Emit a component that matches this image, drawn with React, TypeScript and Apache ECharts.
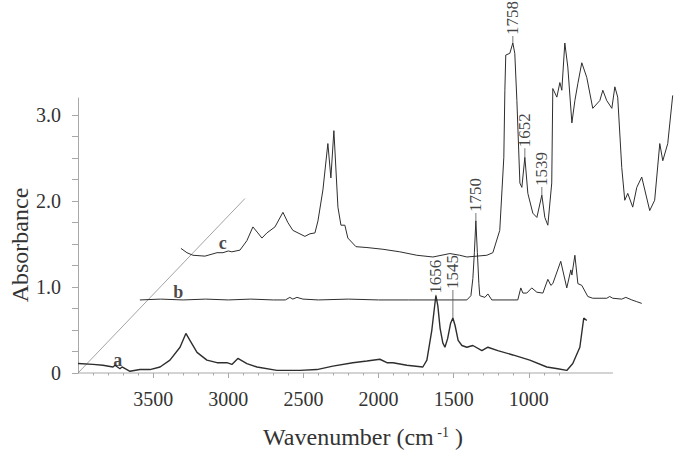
import React, { useEffect, useRef } from 'react';
import * as echarts from 'echarts';

// Trace a (wavenumber cm-1, absorbance)
const WN_A = [4000, 3900, 3834, 3767, 3754, 3721, 3707, 3654, 3588, 3521, 3454, 3388, 3321, 3282, 3255, 3208, 3142, 3075, 3009, 2976, 2936, 2876, 2809, 2676, 2523, 2410, 2304, 2171, 2077, 1991, 1944, 1904, 1811, 1705, 1678, 1645, 1625, 1618, 1605, 1590, 1572, 1558, 1540, 1520, 1505, 1490, 1470, 1445, 1412, 1372, 1312, 1272, 1206, 1106, 993, 880, 807, 747, 707, 660, 634, 614];
const ABS_A = [0.11, 0.10, 0.09, 0.07, 0.09, 0.05, 0.07, 0.02, 0.04, 0.04, 0.07, 0.15, 0.30, 0.46, 0.38, 0.24, 0.15, 0.12, 0.12, 0.10, 0.17, 0.11, 0.07, 0.03, 0.03, 0.04, 0.08, 0.12, 0.14, 0.16, 0.12, 0.12, 0.09, 0.07, 0.15, 0.50, 0.80, 0.90, 0.78, 0.52, 0.35, 0.30, 0.40, 0.58, 0.64, 0.55, 0.38, 0.32, 0.30, 0.32, 0.26, 0.30, 0.26, 0.21, 0.15, 0.07, 0.05, 0.03, 0.11, 0.30, 0.64, 0.61];

// Trace b
const WN_B = [3588, 3450, 3300, 3150, 3000, 2850, 2700, 2620, 2590, 2570, 2543, 2503, 2400, 2200, 2000, 1800, 1600, 1412, 1385, 1372, 1362, 1352, 1342, 1332, 1326, 1292, 1272, 1246, 1073, 1053, 1039, 1013, 980, 946, 906, 873, 853, 840, 787, 747, 720, 713, 693, 673, 647, 607, 574, 481, 461, 441, 381, 354, 314, 281, 248];
const ABS_B = [0.85, 0.86, 0.85, 0.86, 0.85, 0.86, 0.85, 0.85, 0.88, 0.86, 0.88, 0.86, 0.85, 0.86, 0.85, 0.85, 0.85, 0.85, 0.90, 1.10, 1.40, 1.77, 1.40, 1.04, 0.90, 0.88, 0.92, 0.85, 0.85, 0.99, 0.93, 0.93, 0.99, 0.94, 0.93, 1.09, 1.02, 1.04, 1.30, 0.99, 1.20, 1.14, 1.37, 1.04, 1.02, 0.89, 0.87, 0.87, 0.89, 0.87, 0.86, 0.88, 0.85, 0.83, 0.81];

// Trace c
const WN_C = [3315, 3275, 3235, 3155, 3075, 3035, 3000, 2976, 2922, 2876, 2836, 2803, 2776, 2743, 2689, 2636, 2603, 2570, 2490, 2456, 2423, 2403, 2370, 2337, 2317, 2297, 2270, 2250, 2224, 2204, 2150, 2077, 1971, 1858, 1745, 1638, 1525, 1459, 1412, 1279, 1239, 1193, 1166, 1159, 1153, 1126, 1106, 1093, 1079, 1059, 1046, 1026, 1006, 973, 946, 913, 893, 873, 847, 840, 813, 793, 780, 760, 740, 713, 693, 673, 647, 614, 574, 527, 507, 481, 447, 427, 408, 381, 361, 341, 308, 281, 248, 195, 162, 128, 108, 75, 42];
const ABS_C = [1.45, 1.40, 1.37, 1.36, 1.40, 1.40, 1.42, 1.41, 1.43, 1.54, 1.70, 1.63, 1.57, 1.63, 1.70, 1.87, 1.75, 1.66, 1.59, 1.62, 1.63, 1.77, 2.13, 2.67, 2.27, 2.82, 1.93, 1.72, 1.72, 1.57, 1.47, 1.46, 1.44, 1.41, 1.37, 1.35, 1.39, 1.37, 1.35, 1.37, 1.40, 1.66, 2.51, 3.29, 3.70, 3.72, 3.84, 3.72, 3.17, 2.21, 2.16, 2.51, 2.09, 1.86, 1.81, 2.07, 1.81, 1.72, 2.21, 3.31, 3.21, 3.38, 3.29, 3.84, 3.56, 2.91, 3.17, 3.37, 3.61, 3.44, 3.08, 3.17, 3.29, 3.17, 3.08, 3.33, 3.21, 2.39, 2.01, 2.09, 1.93, 2.16, 2.28, 1.89, 2.01, 2.67, 2.47, 2.67, 3.23];

// Depth guide line
const DIAG_WN = [4000, 2889];
const DIAG_ABS = [0, 2.03];

// Visible x-axis extent
const AXIS_WN = [4000, 440];
const AXIS_ABS = [0, 0];

// Peak annotations
const PEAK_TEXT = ['1758', '1652', '1539', '1750', '1656', '1545'];
const PEAK_WN = [1106, 1026, 913, 1352, 1618, 1505];
const PEAK_ABS = [3.84, 2.51, 2.07, 1.77, 0.90, 0.64];

// Trace names
const NAME_TEXT = ['a', 'b', 'c'];
const NAME_WN = [3736, 3333, 3037];
const NAME_ABS = [0.156, 0.943, 1.518];

// Axis ticks / labels
const X_MAJOR = [3500, 3000, 2500, 2000, 1500, 1000];
const X_MINOR = [3900, 3800, 3700, 3600, 3400, 3300, 3200, 3100, 2900, 2800, 2700, 2600, 2400, 2300, 2200, 2100, 1900, 1800, 1700, 1600, 1400, 1300, 1200, 1100, 900, 800];
const Y_TICKS = [0, 0.25, 0.5, 0.75, 1, 1.25, 1.5, 1.75, 2, 2.25, 2.5, 2.75, 3];
const Y_LABELS = [0, 1, 2, 3];

const LEADER = [7, 9, 8, 8, 1, 28];

const zip = (xs: number[], ys: number[]) => xs.map((x, i) => [x, ys[i]]);

export default function App() {
  const ref = useRef<HTMLDivElement>(null);
  useEffect(() => {
    if (!ref.current) return;
    const chart = echarts.init(ref.current, null, { renderer: 'svg' });
    const serif = 'Liberation Serif';
    const axisGray = '#a8a8a8';
    const ink = '#2e2e2e';
    const line = (name: string, data: number[][], width: number, color = ink) => ({
      type: 'line', name, data, symbol: 'none', showSymbol: false, clip: false, silent: true,
      lineStyle: { color, width }, z: 3,
    });
    const xBase = {
      type: 'value', inverse: true, min: 40, max: 4000, position: 'bottom',
      axisLine: { show: false, onZero: false },
      splitLine: { show: false },
    };
    const option: any = {
      animation: false,
      textStyle: { fontFamily: serif },
      grid: { left: 78, right: 1, top: 98, bottom: 77 },
      xAxis: [
        {
          ...xBase,
          axisTick: { show: true, length: 5, customValues: X_MAJOR, lineStyle: { color: axisGray } },
          axisLabel: {
            customValues: X_MAJOR, color: '#333', fontFamily: serif, fontSize: 20, margin: 16,
            formatter: (v: number) => String(v),
          },
        },
        {
          ...xBase,
          axisTick: { show: true, length: 2.5, customValues: X_MINOR, lineStyle: { color: axisGray } },
          axisLabel: { show: false },
        },
      ],
      yAxis: {
        type: 'value', min: 0, max: 3.2,
        axisLine: { show: true, onZero: false, lineStyle: { color: axisGray, width: 1 } },
        axisTick: { show: true, length: 6, customValues: Y_TICKS, lineStyle: { color: axisGray } },
        axisLabel: {
          customValues: Y_LABELS, color: '#333', fontFamily: serif, fontSize: 20, margin: 17,
          formatter: (v: number) => (v === 0 ? '0' : v.toFixed(1)),
        },
        splitLine: { show: false },
      },
      graphic: [
        {
          type: 'text', x: 20, y: 245, rotation: Math.PI / 2,
          style: {
            text: 'Absorbance', fontFamily: serif, fontSize: 24, fill: '#333',
            align: 'center', verticalAlign: 'middle',
          },
        },
        {
          type: 'text', x: 363, y: 437,
          style: {
            text: 'Wavenumber (cm{sup| -1} )', fontFamily: serif, fontSize: 24, fill: '#333',
            align: 'center', verticalAlign: 'middle',
            rich: { sup: { fontSize: 14, fontFamily: serif, fill: '#333', verticalAlign: 'top' } },
          },
        },
      ],
      series: [
        line('xaxis', zip(AXIS_WN, AXIS_ABS), 1, axisGray),
        line('diag', zip(DIAG_WN, DIAG_ABS), 0.8, '#8c8c8c'),
        line('a', zip(WN_A, ABS_A), 1.4),
        line('b', zip(WN_B, ABS_B), 1),
        line('c', zip(WN_C, ABS_C), 1),
        {
          type: 'scatter', name: 'peaks', clip: false, silent: true, z: 4,
          data: PEAK_TEXT.map((t, i) => ({
            name: t, value: [PEAK_WN[i], PEAK_ABS[i]],
            symbol: 'rect', symbolSize: [1, LEADER[i]], symbolOffset: [0, -LEADER[i] / 2],
          })),
          itemStyle: { color: '#555' },
          label: {
            show: true, position: 'top', distance: 1, rotate: 90, align: 'left', verticalAlign: 'middle',
            formatter: '{b}', fontFamily: serif, fontSize: 17, color: '#111',
          },
        },
        {
          type: 'scatter', name: 'names', clip: false, silent: true, z: 4,
          data: NAME_TEXT.map((t, i) => ({ name: t, value: [NAME_WN[i], NAME_ABS[i]] })),
          symbolSize: 1, itemStyle: { color: 'rgba(0,0,0,0)' },
          label: {
            show: true, position: 'inside', formatter: '{b}', fontFamily: serif, fontSize: 18,
            fontWeight: 'bold', color: '#1a1a1a',
          },
        },
      ],
    };
    chart.setOption(option);
    return () => chart.dispose();
  }, []);
  return <div ref={ref} style={{ position: 'fixed', left: 0, top: 0, width: 674, height: 450, background: '#fff' }} />;
}
